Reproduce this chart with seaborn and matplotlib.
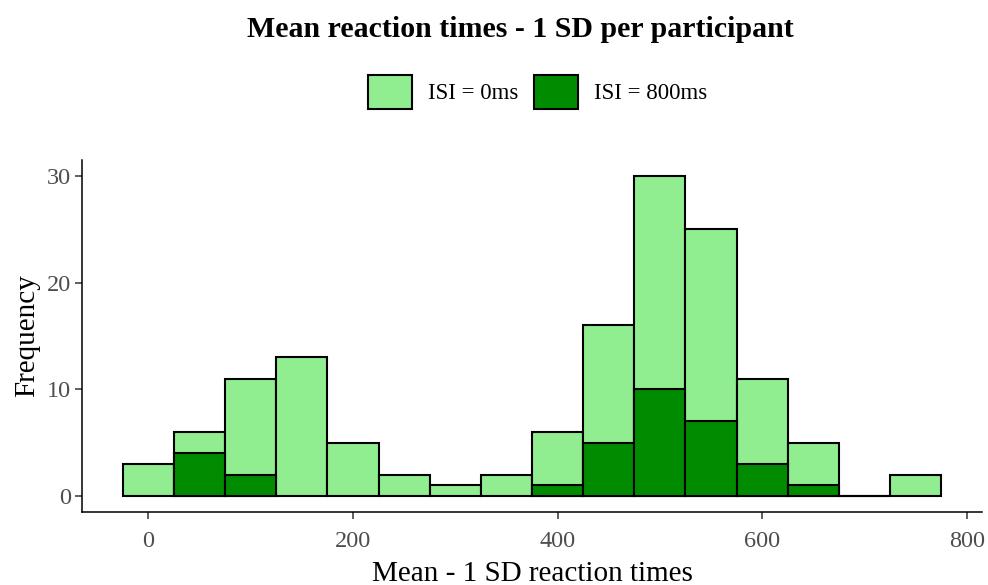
import numpy as np
import pandas as pd
import matplotlib
matplotlib.use("Agg")
import matplotlib.pyplot as plt
import seaborn as sns
from matplotlib.patches import Patch

# Bin centers (ms) and counts
bin_centers = [0, 50, 100, 150, 200, 250, 300, 350, 400, 450, 500, 550, 600, 650, 700, 750]
counts_isi0 = [3, 6, 11, 13, 5, 2, 1, 2, 6, 16, 30, 25, 11, 5, 0, 2]
counts_isi800 = [0, 4, 2, 0, 0, 0, 0, 0, 1, 5, 10, 7, 3, 1, 0, 0]
series_labels = ["ISI = 0ms", "ISI = 800ms"]
series_colors = ["#90EE90", "#008B00"]
x_ticks = [0, 200, 400, 600, 800]
y_ticks = [0, 10, 20, 30]

sns.set_theme(style="ticks")
plt.rcParams["font.family"] = ["Liberation Serif", "DejaVu Serif"]
plt.rcParams["text.color"] = "black"

fig = plt.figure(figsize=(9.88, 5.85), dpi=100)
ax = fig.add_axes([0.083, 0.125, 0.911, 0.6015])

edges = [float(e) for e in np.arange(-25, 800, 50)]
df0 = pd.DataFrame({"x": bin_centers, "w": counts_isi0})
df1 = pd.DataFrame({"x": bin_centers, "w": counts_isi800})

sns.histplot(data=df0, x="x", weights="w", bins=edges, ax=ax,
             color=series_colors[0], alpha=1, edgecolor="black", linewidth=1.5)
n0 = len(ax.patches)
sns.histplot(data=df1, x="x", weights="w", bins=edges, ax=ax,
             color=series_colors[1], alpha=1, edgecolor="black", linewidth=1.5)

# hide zero-height dark bars except in the empty 700 bin (drawn as flat line)
for p in ax.patches[n0:]:
    if p.get_height() == 0:
        cx = p.get_x() + p.get_width() / 2
        if abs(cx - 700) > 1:
            p.set_visible(False)

ax.set_xlim(-65, 815)
ax.set_ylim(-1.5, 31.5)
ax.set_xticks(x_ticks)
ax.set_yticks(y_ticks)
ax.tick_params(axis="both", colors="#333333", labelsize=17.5, length=5, width=1.1, pad=3)
ax.tick_params(axis="x", pad=9)
for lbl in ax.get_xticklabels() + ax.get_yticklabels():
    lbl.set_color("#4D4D4D")
ax.set_xlabel("Mean - 1 SD reaction times", fontsize=21, color="black", labelpad=6)
ax.set_ylabel("Frequency", fontsize=21, color="black", labelpad=5)
for s in ["top", "right"]:
    ax.spines[s].set_visible(False)
for s in ["left", "bottom"]:
    ax.spines[s].set_color("black")
    ax.spines[s].set_linewidth(1.1)

fig.text(0.5265, 0.950, "Mean reaction times - 1 SD per participant",
         ha="center", va="center", fontsize=21.5, fontweight="bold", color="black")

handles = [Patch(facecolor=c, edgecolor="black", linewidth=1.5, label=l)
           for c, l in zip(series_colors, series_labels)]
fig.legend(handles=handles, loc="center", bbox_to_anchor=(0.544, 0.843), ncol=2,
           frameon=False, fontsize=16.5, handlelength=1.9, handleheight=1.9,
           handletextpad=0.7, columnspacing=0.7)

fig.savefig("out.png", dpi=100)
